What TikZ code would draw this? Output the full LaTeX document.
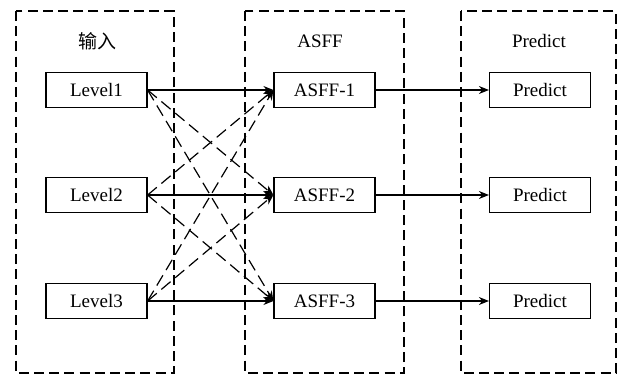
\documentclass[tikz,border=0pt]{standalone}
\usepackage{fontspec}
\setmainfont{Liberation Serif}
\newfontfamily\cjkfont{Noto Sans CJK SC}
\usetikzlibrary{arrows.meta}

\tikzset{
    groupbox/.style={draw, line width=0.7pt, dash pattern=on 5pt off 2.6pt},
    itembox/.style={draw, line width=0.6pt, minimum width=50.5pt, minimum height=17.5pt, inner sep=0pt},
    link/.style={line width=0.6pt, -{Stealth[length=5pt,width=4pt]}}
}

\begin{document}
\begin{tikzpicture}[x=0.5pt, y=-0.5pt, font=\fontsize{9.5}{11}\selectfont]
        \useasboundingbox (0,0) rectangle (625,376);

        % Group frames
        \draw[groupbox] (16,11) rectangle (174,373);
        \draw[groupbox] (245,11) rectangle (404,373);
        \draw[groupbox] (461,11) rectangle (616,373);

        % Group titles
        \node (titleIn) at (97,41) {\cjkfont 输入};
        \node (titleAsff) at (320,41) {ASFF};
        \node (titlePred) at (539,41) {Predict};

        % Boxes in three rows
        \foreach \i/\y in {1/90,2/195,3/301} {
            \node[itembox] (lv\i) at (96.5,\y) {Level\i};
            \node[itembox] (asff\i) at (324.5,\y) {ASFF-\i};
            \node[itembox] (pred\i) at (540,\y) {Predict};
        }

        % Level to ASFF (same level solid, cross levels dashed)
        \foreach \i in {1,2,3} {
            \foreach \j in {1,2,3} {
                \ifnum\i=\j
                    \draw[link] (lv\i.east) -- (asff\j.west);
                \else
                    \draw[link, dash pattern=on 6pt off 3pt] (lv\i.east) -- (asff\j.west);
                \fi
            }
        }

        % ASFF to Predict
        \foreach \i in {1,2,3} {
            \draw[link] (asff\i.east) -- (pred\i.west);
        }
    \end{tikzpicture}
\end{document}
